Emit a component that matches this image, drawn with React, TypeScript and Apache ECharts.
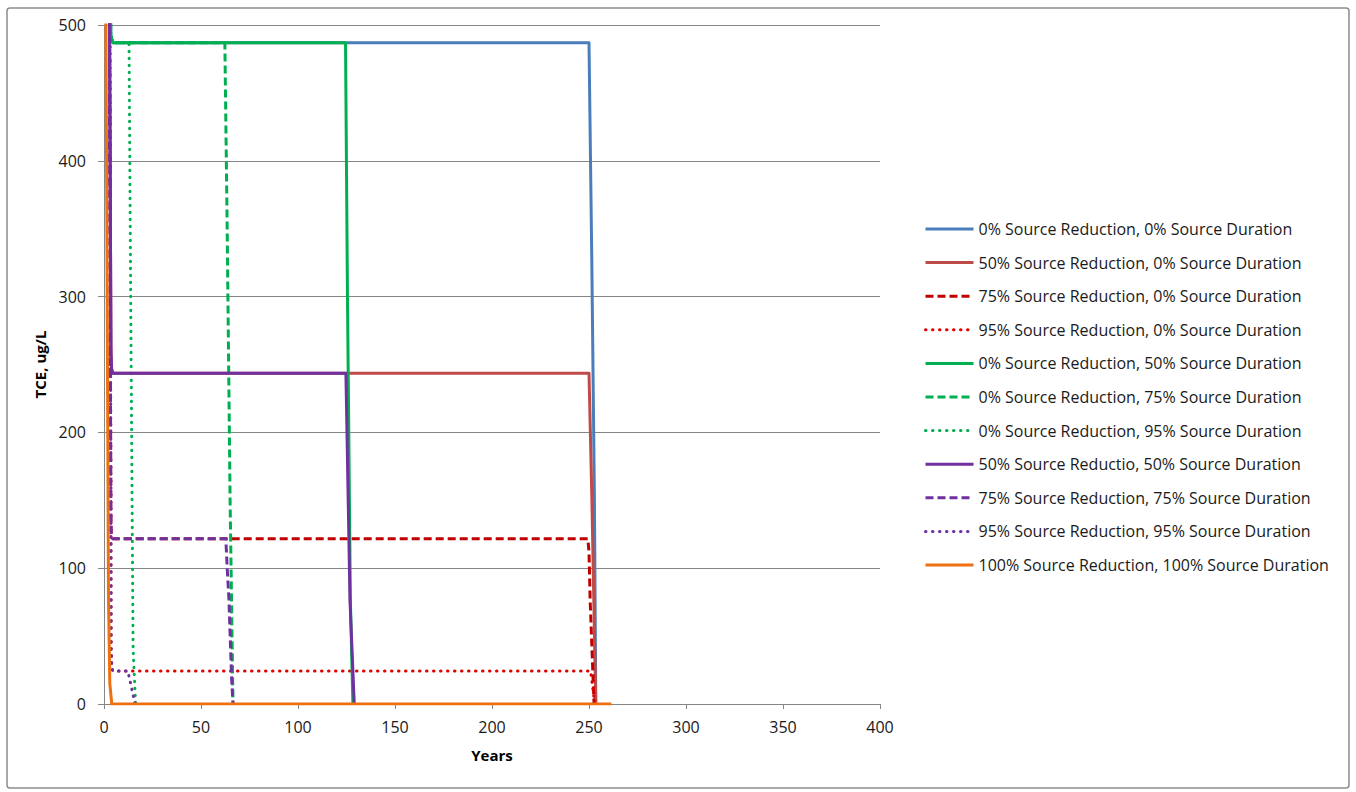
import React, { useEffect, useRef } from "react";
import * as echarts from "echarts";

const seriesNames = [
  "0% Source Reduction, 0% Source Duration",
  "50% Source Reduction, 0% Source Duration",
  "75% Source Reduction, 0% Source Duration",
  "95% Source Reduction, 0% Source Duration",
  "0% Source Reduction, 50% Source Duration",
  "0% Source Reduction, 75% Source Duration",
  "0% Source Reduction, 95% Source Duration",
  "50% Source Reductio, 50% Source Duration",
  "75% Source Reduction, 75% Source Duration",
  "95% Source Reduction, 95% Source Duration",
  "100% Source Reduction, 100% Source Duration",
];

// [years, TCE ug/L]
const red0dur0 = [[3.3, 520], [3.5, 492], [4.5, 487], [250, 487], [251.5, 320], [252.8, 150], [253.5, 0]];
const red50dur0 = [[2.8, 520], [3.6, 260], [3.9, 247], [4.5, 243.5], [250, 243.5], [251.5, 150], [253.5, 0]];
const red75dur0 = [[2.8, 520], [3.5, 140], [3.7, 126], [4.5, 121.75], [249.4, 121.75], [250, 112], [250.6, 76], [252.6, 0]];
const red95dur0 = [[3, 520], [3.7, 40], [4, 27], [4.5, 24.35], [250.8, 24.35], [252.3, 8], [252.8, 0]];
const red0dur50 = [[3.3, 520], [3.5, 492], [4.5, 487], [124.5, 487], [125.5, 300], [127, 76], [128.3, 0]];
const red0dur75 = [[3.3, 520], [3.5, 492], [4.5, 487], [62.3, 487], [63.5, 350], [65, 150], [66.5, 0]];
const red0dur95 = [[3.3, 520], [3.5, 492], [4.5, 487], [12.9, 487], [13.7, 310], [15, 40], [16.3, 0]];
const red50dur50 = [[2.8, 520], [3.6, 260], [3.9, 247], [4.5, 243.5], [124.7, 243.5], [126.8, 76], [129, 0]];
const red75dur75 = [[2.8, 520], [3.5, 140], [3.7, 126], [4.5, 121.75], [62.8, 121.75], [63.5, 100], [64.4, 77], [65.8, 18], [66.5, 0]];
const red95dur95 = [[3, 520], [3.7, 40], [4, 27], [4.5, 24.35], [12.3, 24.35], [14.2, 12], [16, 0]];
const red100dur100 = [[0.9, 520], [1.5, 350], [2.3, 80], [3, 15], [4, 0], [261.5, 0]];

const seriesData = [
  red0dur0, red50dur0, red75dur0, red95dur0, red0dur50, red0dur75,
  red0dur95, red50dur50, red75dur75, red95dur95, red100dur100,
];

const seriesColors = [
  "#4A7EBB", "#BE4B48", "#C00000", "#E00000", "#00B050", "#00B050",
  "#00B050", "#7030A0", "#7030A0", "#7030A0", "#EE7010",
];
const seriesDash = ["solid", "solid", "dashed", "dotted", "solid", "dashed", "dotted", "solid", "dashed", "dotted", "solid"];

const xTicks = { min: 0, max: 400, interval: 50 };
const yTicks = { min: 0, max: 500, interval: 100 };

const FONT = "'Open Sans', 'Noto Sans', sans-serif";

export default function App() {
  const ref = useRef<HTMLDivElement>(null);
  useEffect(() => {
    if (!ref.current) return;
    const chart = echarts.init(ref.current, undefined, { renderer: "svg" });
    const series = seriesData.map((d, i) => {
      const dash = seriesDash[i];
      const type = dash === "solid" ? "solid" : dash === "dashed" ? [8, 4] : [0.5, 6.5];
      return {
        name: seriesNames[i],
        type: "line",
        data: d,
        symbol: "none",
        showSymbol: false,
        clip: true,
        lineStyle: {
          color: seriesColors[i],
          width: 3,
          type,
          cap: dash === "dotted" ? "round" : "butt",
          join: "round",
        },
        itemStyle: { color: seriesColors[i] },
      };
    });
    chart.setOption({
      animation: false,
      backgroundColor: "#ffffff",
      grid: { left: 104, right: 476, top: 25, bottom: 88, containLabel: false },
      graphic: [
        {
          type: "rect",
          shape: { x: 7, y: 8, width: 1342, height: 780, r: 3 },
          style: { fill: "none", stroke: "#8c8c8c", lineWidth: 1.5 },
          silent: true,
        },
      ],
      legend: {
        orient: "vertical",
        left: 924,
        top: 219,
        padding: 0,
        itemWidth: 48,
        itemHeight: 20,
        itemGap: 13.6,
        itemTextGap: 5,
        itemStyle: { opacity: 0 },
        lineStyle: { width: 3 },
        textStyle: { fontFamily: FONT, fontSize: 16, color: "#1a1a1a", lineHeight: 20 },
        data: seriesNames,
      },
      xAxis: {
        type: "value",
        min: xTicks.min,
        max: xTicks.max,
        interval: xTicks.interval,
        name: "Years",
        nameLocation: "middle",
        nameGap: 43,
        nameTextStyle: { fontFamily: FONT, fontSize: 15, fontWeight: "bold", color: "#000" },
        axisLine: { show: true, onZero: false, lineStyle: { color: "#868686", width: 1 } },
        axisTick: { show: true, inside: false, length: 5, lineStyle: { color: "#868686" } },
        axisLabel: { fontFamily: FONT, fontSize: 16, color: "#1a1a1a", margin: 15 },
        splitLine: { show: false },
      },
      yAxis: {
        type: "value",
        min: yTicks.min,
        max: yTicks.max,
        interval: yTicks.interval,
        name: "TCE, ug/L",
        nameLocation: "middle",
        nameGap: 55,
        nameTextStyle: { fontFamily: FONT, fontSize: 15, fontWeight: "bold", color: "#000" },
        axisLine: { show: true, lineStyle: { color: "#868686", width: 1 } },
        axisTick: { show: true, inside: false, length: 6, lineStyle: { color: "#868686" } },
        axisLabel: { fontFamily: FONT, fontSize: 16, color: "#1a1a1a", margin: 18 },
        splitLine: { show: true, lineStyle: { color: "#868686", width: 1 } },
      },
      series,
    });
    return () => chart.dispose();
  }, []);
  return (
    <div
      ref={ref}
      style={{ position: "fixed", left: 0, top: 0, width: 1356, height: 792, background: "#fff" }}
    />
  );
}
